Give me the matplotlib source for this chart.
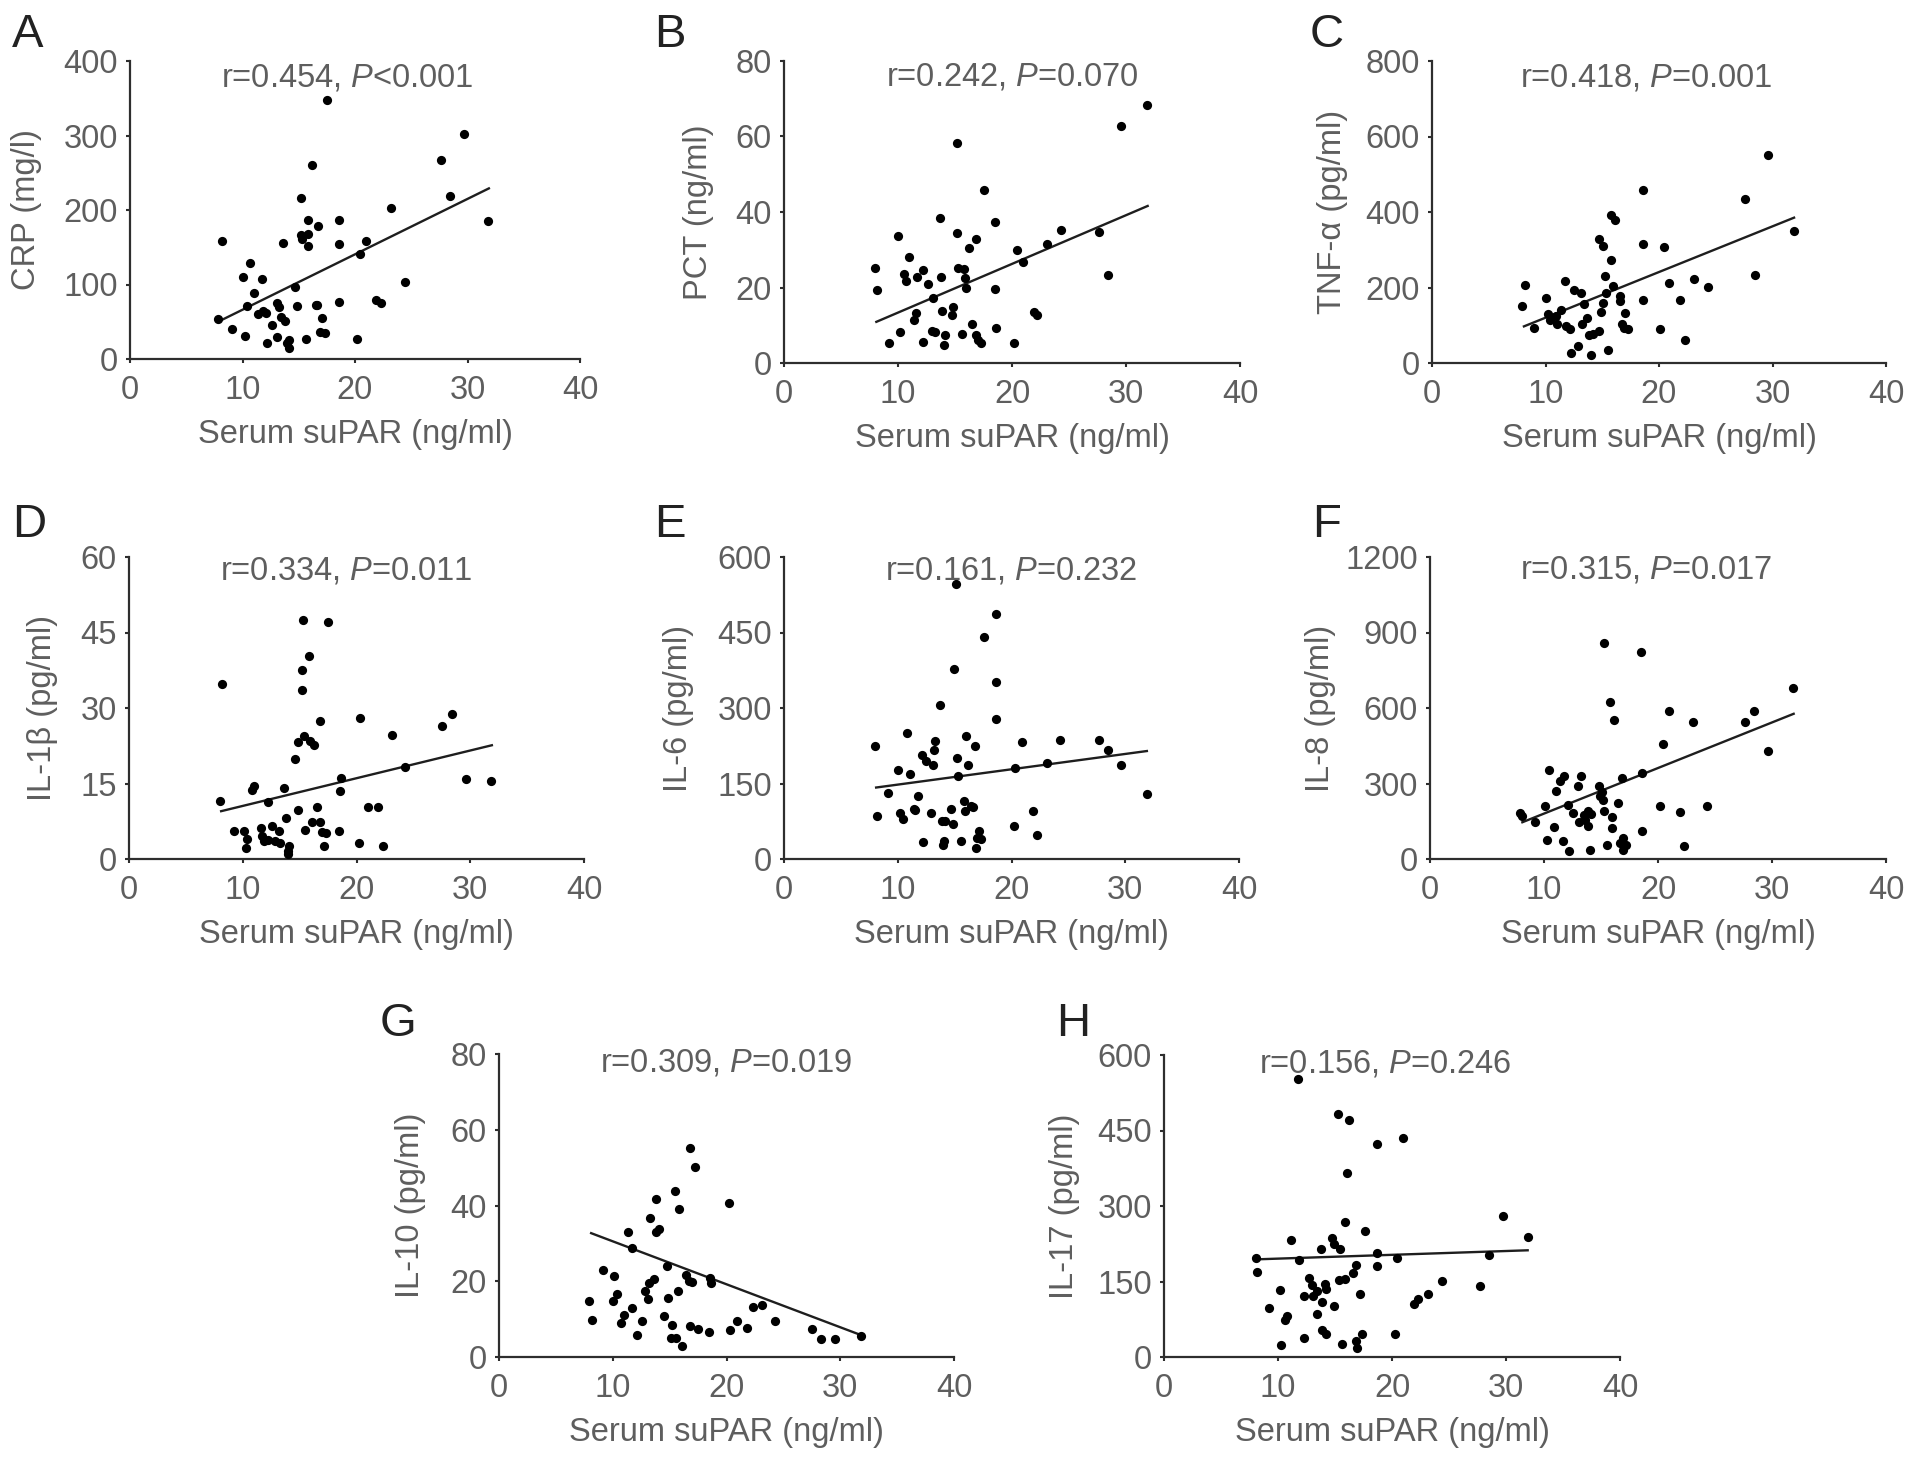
import numpy as np
import matplotlib
matplotlib.use('Agg')
import matplotlib.pyplot as plt

plt.rcParams['font.family'] = ['Liberation Sans', 'DejaVu Sans']
plt.rcParams['mathtext.fontset'] = 'custom'
plt.rcParams['mathtext.rm'] = 'Liberation Sans'
plt.rcParams['mathtext.it'] = 'Liberation Sans:italic'

# ---- data (x = serum suPAR, ng/ml) ----
crp_x = [8.2, 7.85, 9.1, 10.2, 10.0, 10.7, 10.4, 11.0, 11.7, 11.4, 11.8, 12.1, 12.2, 12.6,
         13.1, 13.2, 13.1, 13.6, 13.4, 13.8, 14.1, 14.1, 13.95, 14.7, 14.8, 15.2, 15.2, 15.3,
         15.6, 15.8, 15.85, 15.85, 16.15, 16.5, 16.7, 16.6, 17.05, 16.9, 17.3, 17.5, 18.55,
         18.55, 18.6, 20.2, 20.4, 21.0, 21.9, 22.3, 23.2, 24.4, 27.65, 28.45, 29.65, 31.85]
crp_y = [158.7, 54, 40.7, 31, 110, 129, 71.5, 88, 107, 60, 64, 62, 21.5, 46,
         75, 70, 30, 155.5, 57, 50.5, 26, 14.7, 21, 97, 71.5, 216, 167, 161,
         27, 187, 167.6, 152, 261, 73, 178, 73, 55, 36.6, 35, 347, 187,
         155, 76, 27, 141, 158, 79.5, 75, 203, 104, 267, 219, 302, 185.5]

pct_x = [8.0, 8.15, 9.2, 10.0, 10.2, 10.5, 10.7, 11.0, 11.4, 11.55, 11.7, 12.15, 12.2, 12.6,
         13.1, 13.0, 13.25, 13.7, 13.8, 13.85, 14.1, 14.0, 14.75, 14.85, 15.15, 15.2, 15.3,
         15.6, 15.8, 15.9, 15.95, 16.2, 16.5, 16.8, 16.8, 17.0, 17.3, 17.55, 18.55, 18.55,
         18.6, 20.15, 20.4, 21.0, 21.95, 22.2, 23.1, 24.3, 27.6, 28.4, 29.6, 31.8]
pct_y = [25.1, 19.4, 5.3, 33.6, 8.2, 23.7, 21.7, 28.2, 11.5, 13.3, 22.8, 24.6, 5.6, 21,
         17.1, 8.6, 8.1, 38.4, 22.8, 13.7, 7.5, 4.9, 12.8, 14.9, 34.5, 58.3, 25.1,
         7.8, 24.8, 22.5, 19.9, 30.4, 10.3, 32.9, 7.5, 6, 5.3, 45.7, 37.3, 19.6,
         9.3, 5.3, 29.9, 26.8, 13.5, 12.6, 31.6, 35.3, 34.7, 23.4, 62.7, 68.4]

tnf_x = [7.9, 8.15, 9.0, 10.0, 10.25, 10.4, 10.9, 11.05, 11.4, 11.7, 11.85, 12.15, 12.25,
         12.5, 12.85, 13.1, 13.2, 13.4, 13.7, 13.8, 14.0, 14.15, 14.7, 14.7, 15.05, 14.9,
         15.05, 15.25, 15.3, 15.5, 15.8, 15.8, 16.1, 15.95, 16.55, 16.6, 16.75, 16.95, 17.0,
         17.25, 18.6, 18.6, 18.6, 20.1, 20.4, 20.9, 21.85, 22.3, 23.1, 24.3, 27.6, 28.45,
         29.6, 31.9]
tnf_y = [152, 207, 93, 171, 131, 115, 124, 103, 141, 218, 99, 91, 27,
         193, 44, 186, 102, 156, 119, 75, 20, 77, 84, 329, 311, 135,
         159, 230, 186, 34, 273, 391, 380, 203, 177, 165, 102, 93, 133,
         90, 459, 316, 166, 91, 308, 212, 166, 60, 223, 202, 435, 234,
         552, 350]

il1b_x = [8.2, 8.0, 9.2, 10.15, 10.3, 10.4, 10.8, 11.0, 11.6, 11.7, 11.9, 12.2, 12.25, 12.6,
          12.8, 13.15, 13.3, 13.6, 13.8, 14.0, 14.05, 14.0, 14.6, 14.85, 14.85, 15.2, 15.25,
          15.3, 15.5, 15.35, 15.9, 15.8, 16.3, 16.1, 16.5, 16.75, 16.75, 17.1, 16.95, 17.35,
          17.5, 18.5, 18.6, 18.55, 20.2, 20.35, 21.0, 21.9, 22.35, 23.1, 24.3, 27.55, 28.4,
          29.6, 31.8]
il1b_y = [34.8, 11.6, 5.6, 5.5, 2.2, 4.0, 13.8, 14.6, 6.2, 4.5, 3.5, 11.3, 3.7, 6.5,
          3.5, 5.6, 3.2, 14.1, 8.2, 1.5, 2.5, 0.9, 19.9, 9.7, 23.2, 37.6, 33.6,
          47.5, 5.7, 24.4, 23.4, 40.4, 22.7, 7.4, 10.3, 7.4, 27.5, 2.5, 5.4, 5.2,
          47, 5.6, 16.1, 13.6, 3.2, 28.1, 10.3, 10.3, 2.5, 24.7, 18.3, 26.4, 28.8,
          15.9, 15.4]

il6_x = [8.0, 8.2, 9.15, 10.0, 10.2, 10.45, 10.8, 11.05, 11.45, 11.55, 11.75, 12.2, 12.1,
         12.5, 12.95, 13.1, 13.25, 13.2, 13.7, 13.9, 14.0, 14.05, 14.15, 14.65, 14.9, 14.95,
         15.15, 15.2, 15.3, 15.6, 15.85, 15.9, 16.0, 16.15, 16.45, 16.6, 16.8, 16.85, 17.0,
         17.1, 17.3, 17.55, 18.6, 18.65, 18.65, 20.2, 20.35, 20.95, 21.9, 22.25, 23.15, 24.3,
         27.65, 28.5, 29.65, 31.9]
il6_y = [225, 85, 131, 176, 91.5, 80, 251, 169, 99, 97, 125, 33, 206,
         194, 91.5, 186, 234, 216, 305, 76, 28.5, 35, 76, 99, 70, 378,
         546, 201, 164, 35, 115, 95, 245, 186, 106, 103, 224, 22, 42,
         56, 40, 441, 486, 351, 279, 66, 181, 232, 95, 47, 191, 236,
         236, 217, 186, 130]

il8_x = [7.9, 8.1, 9.2, 10.05, 10.25, 10.45, 10.85, 11.05, 11.4, 11.65, 11.75, 12.1, 12.2,
         12.55, 13.0, 13.25, 13.1, 13.5, 13.6, 13.85, 13.85, 14.0, 14.1, 14.8, 14.9, 15.05,
         15.3, 15.3, 15.2, 15.55, 15.8, 15.95, 15.95, 16.15, 16.5, 16.7, 16.85, 16.9, 16.95,
         17.2, 18.5, 18.6, 18.6, 20.15, 20.4, 20.95, 21.9, 22.3, 23.1, 24.3, 27.65, 28.45,
         29.65, 31.85]
il8_y = [183, 170, 147, 212, 77, 355, 127, 272, 309, 73, 331, 216, 30,
         183, 291, 331, 146, 176, 154, 189, 132, 34, 177, 289, 249, 265,
         192, 858, 236, 54, 622, 167, 123, 554, 223, 64, 322, 37, 83,
         54, 821, 342, 113, 212, 457, 589, 187, 53, 543, 212, 543, 587,
         430, 680]

il10_x = [7.9, 8.2, 9.1, 10.1, 10.0, 10.4, 10.7, 11.0, 11.35, 11.65, 11.65, 12.15, 12.55,
          12.85, 13.1, 13.15, 13.3, 13.6, 13.8, 13.8, 14.1, 14.5, 14.8, 14.85, 15.1, 15.25,
          15.5, 15.6, 15.75, 15.85, 16.1, 16.4, 16.7, 16.75, 16.75, 16.95, 17.25, 17.5, 18.5,
          18.55, 18.6, 20.2, 20.35, 20.95, 21.8, 22.35, 23.1, 24.3, 27.55, 28.35, 29.55, 31.8]
il10_y = [14.9, 9.8, 22.9, 21.5, 14.7, 16.7, 9.0, 11.2, 33.0, 28.7, 12.9, 5.9, 9.4,
          17.5, 15.3, 19.6, 36.7, 20.7, 41.8, 33.1, 33.7, 10.7, 23.9, 15.6, 5.0, 8.5,
          43.7, 5.0, 17.3, 39.0, 3.0, 21.7, 20.1, 55.1, 8.1, 19.7, 50.1, 7.4, 6.6,
          20.8, 19.5, 40.6, 7.0, 9.6, 7.6, 13.2, 13.8, 9.4, 7.4, 4.7, 4.7, 5.6]

il17_x = [8.05, 8.2, 9.25, 10.3, 10.2, 10.6, 10.8, 11.15, 11.75, 11.8, 12.25, 12.3, 12.7,
          13.0, 13.1, 13.4, 13.4, 13.8, 13.9, 13.85, 14.2, 14.1, 14.2, 14.7, 14.95, 14.95,
          15.3, 15.45, 15.35, 15.65, 15.9, 15.9, 16.05, 16.2, 16.55, 16.8, 16.9, 16.85, 17.15,
          17.4, 17.6, 18.65, 18.7, 18.7, 20.25, 20.45, 21.0, 21.95, 22.25, 23.15, 24.4, 27.7,
          28.5, 29.75, 31.9]
il17_y = [197, 169, 98, 24.5, 133, 74, 81, 233, 552, 192, 38, 121, 156,
          143, 122, 85, 131, 214, 109, 53, 46, 146, 136, 237, 224, 101,
          483, 214, 153, 25, 154, 269, 365, 471, 166, 32, 17, 182, 126,
          46, 250, 423, 181, 206, 45, 196, 436, 106, 115, 126, 151, 141,
          202, 280, 239]

# regression lines as drawn (values at the two ends of the fitted range)
fit_x = [8.1, 31.9]
crp_fit = [52, 229]
pct_fit = [10.9, 41.6]
tnf_fit = [97, 385]
il1b_fit = [9.5, 22.6]
il6_fit = [142, 214.5]
il8_fit = [146, 577]
il10_fit = [32.7, 5.7]
il17_fit = [194, 212]

letters = ['A', 'B', 'C', 'D', 'E', 'F', 'G', 'H']
ylabels = ['CRP (mg/l)', 'PCT (ng/ml)', 'TNF-α (pg/ml)', 'IL-1β (pg/ml)',
           'IL-6 (pg/ml)', 'IL-8 (pg/ml)', 'IL-10 (pg/ml)', 'IL-17 (pg/ml)']
ysteps = [100, 20, 200, 15, 150, 300, 20, 150]
r_vals = ['0.454', '0.242', '0.418', '0.334', '0.161', '0.315', '0.309', '0.156']
p_vals = ['<0.001', '=0.070', '=0.001', '=0.011', '=0.232', '=0.017', '=0.019', '=0.246']
xticks = [0, 10, 20, 30, 40]

series = [(crp_x, crp_y, crp_fit), (pct_x, pct_y, pct_fit), (tnf_x, tnf_y, tnf_fit),
          (il1b_x, il1b_y, il1b_fit), (il6_x, il6_y, il6_fit), (il8_x, il8_y, il8_fit),
          (il10_x, il10_y, il10_fit), (il17_x, il17_y, il17_fit)]

W, H = 1913, 1460
# axes boxes in pixels: left, y of x-axis, width, height
boxes = [(130, 359, 450, 298), (784, 363, 456, 302), (1432, 363, 454, 302),
         (129, 859, 455, 302), (784, 859, 455, 302), (1430, 859, 456, 302),
         (499, 1357, 455, 303), (1164, 1357, 456, 302)]
# panel letter position in pixels: left, baseline
letter_pos = [(12, 47), (654, 47), (1310, 47), (12, 537), (654, 537), (1312, 537),
              (380, 1036), (1056, 1036)]
# y-label centre distance left of the y axis, px
ylab_off = [103, 86, 100, 86, 106, 109, 88, 100]
# annotation centre in axes fractions
annot_x = [0.482, 0.50, 0.473, 0.478, 0.50, 0.475, 0.50, 0.486]
annot_y = [0.943, 0.946, 0.943, 0.955, 0.955, 0.958, 0.97, 0.97]

spine_col = '#2e2e2e'
text_col = '#5e5e5e'
fs = 23.5

fig = plt.figure(figsize=(W / 100, H / 100), dpi=100)

for i, (xs, ys, fit) in enumerate(series):
    l, b, w, h = boxes[i]
    ax = fig.add_axes([l / W, 1 - b / H, w / W, h / H])
    ymax = ysteps[i] * 4
    ax.scatter(xs, ys, s=44, color='black', linewidths=0, zorder=3, clip_on=False)
    ax.plot(fit_x, fit, color='#1e1e1e', lw=1.7, zorder=2)
    ax.set_xlim(0, 40)
    ax.set_ylim(0, ymax)
    yt = [ysteps[i] * k for k in range(5)]
    ax.set_xticks(xticks)
    ax.set_xticklabels([str(t) for t in xticks])
    ax.set_yticks(yt)
    ax.set_yticklabels([str(t) for t in yt])
    for s in ['top', 'right']:
        ax.spines[s].set_visible(False)
    for s in ['left', 'bottom']:
        ax.spines[s].set_color(spine_col)
        ax.spines[s].set_linewidth(1.6)
    ax.tick_params(axis='both', direction='out', length=3.2, width=1.5,
                   color=spine_col, labelcolor=text_col, labelsize=fs)
    ax.tick_params(axis='x', pad=8)
    ax.tick_params(axis='y', pad=5.5)
    ax.set_xlabel('Serum suPAR (ng/ml)', fontsize=fs, color=text_col, labelpad=10)
    ax.set_ylabel(ylabels[i], fontsize=fs, color=text_col)
    ax.yaxis.set_label_coords(-ylab_off[i] / w, 0.5)
    ax.yaxis.label.set_va('center')
    ax.text(annot_x[i], annot_y[i], 'r=' + r_vals[i] + r', $\mathit{P}$' + p_vals[i],
            transform=ax.transAxes, ha='center', va='center',
            fontsize=fs, color=text_col)
    lx, ly = letter_pos[i]
    fig.text(lx / W, 1 - ly / H, letters[i], fontsize=34, color='#222222',
             ha='left', va='baseline')

fig.savefig('out.png', dpi=100, facecolor='white')
